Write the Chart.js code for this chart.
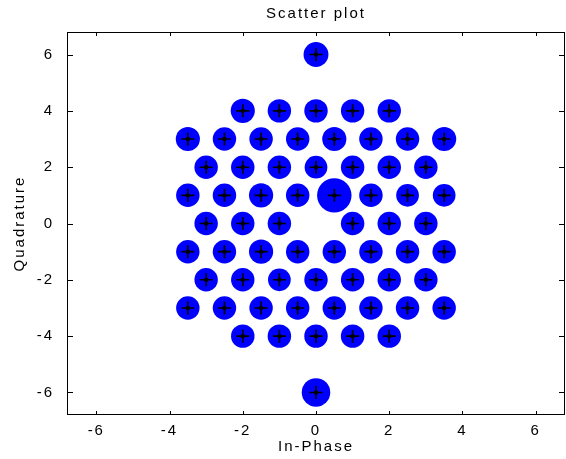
<!DOCTYPE html>
<html>
<head>
<meta charset="utf-8">
<script src="https://cdn.jsdelivr.net/npm/chart.js@4/dist/chart.umd.min.js"></script>
<style>
html,body{margin:0;padding:0;background:#fff;}
#wrap{width:566px;height:459px;}
</style>
</head>
<body>
<div id="wrap"><canvas id="c" width="566" height="459"></canvas></div>
<script>
// ---- data ----
const titleText = 'Scatter plot';
const xLabel = 'In-Phase';
const yLabel = 'Quadrature';
const tickValues = [-6, -4, -2, 0, 2, 4, 6];
const axisMin = -6.8;
const axisMax = 6.8;

// ideal constellation points (In-Phase, Quadrature)
const symbolI = [
  0,
  -2, -1, 0, 1, 2,
  -3.5, -2.5, -1.5, -0.5, 0.5, 1.5, 2.5, 3.5,
  -3, -2, -1, 0, 1, 2, 3,
  -3.5, -2.5, -1.5, -0.5, 0.5, 1.5, 2.5, 3.5,
  -3, -2, -1, 1, 2, 3,
  -3.5, -2.5, -1.5, -0.5, 0.5, 1.5, 2.5, 3.5,
  -3, -2, -1, 0, 1, 2, 3,
  -3.5, -2.5, -1.5, -0.5, 0.5, 1.5, 2.5, 3.5,
  -2, -1, 0, 1, 2,
  0
];
const symbolQ = [
  6,
  4, 4, 4, 4, 4,
  3, 3, 3, 3, 3, 3, 3, 3,
  2, 2, 2, 2, 2, 2, 2,
  1, 1, 1, 1, 1, 1, 1, 1,
  0, 0, 0, 0, 0, 0,
  -1, -1, -1, -1, -1, -1, -1, -1,
  -2, -2, -2, -2, -2, -2, -2,
  -3, -3, -3, -3, -3, -3, -3, -3,
  -4, -4, -4, -4, -4,
  -6
];
// observed noise spread of each received cluster (In-Phase units)
const noiseSpread = [
  0.34,
  0.33, 0.32, 0.32, 0.32, 0.32,
  0.33, 0.32, 0.32, 0.32, 0.33, 0.32, 0.32, 0.33,
  0.32, 0.32, 0.32, 0.31, 0.32, 0.32, 0.32,
  0.32, 0.32, 0.33, 0.32, 0.47, 0.32, 0.31, 0.31,
  0.32, 0.32, 0.32, 0.32, 0.32, 0.32,
  0.32, 0.32, 0.33, 0.32, 0.32, 0.32, 0.32, 0.32,
  0.32, 0.32, 0.31, 0.32, 0.32, 0.32, 0.32,
  0.32, 0.32, 0.32, 0.32, 0.32, 0.32, 0.32, 0.32,
  0.32, 0.32, 0.32, 0.32, 0.32,
  0.39
];

// ---- chart ----
const FONT = {family: '"Liberation Sans", Arial, Helvetica, sans-serif', size: 15, weight: 'normal'};
const points = symbolI.map((v, i) => ({x: v, y: symbolQ[i]}));

const framePlugin = {
  id: 'frame',
  beforeDraw(chart) {
    chart.ctx.letterSpacing = '2px';
  },
  afterDatasetsDraw(chart) {
    const {ctx, chartArea: a, scales} = chart;
    ctx.save();
    ctx.letterSpacing = '0px';
    ctx.strokeStyle = '#000';
    ctx.lineWidth = 1;
    ctx.strokeRect(Math.round(a.left) + 0.5, Math.round(a.top) + 0.5,
                   Math.round(a.right - a.left) - 1, Math.round(a.bottom - a.top) - 1);
    const tlx = 4, tly = 6;
    ctx.beginPath();
    tickValues.forEach(v => {
      const px = Math.round(scales.x.getPixelForValue(v)) + 0.5;
      ctx.moveTo(px, a.bottom); ctx.lineTo(px, a.bottom - tlx);
      ctx.moveTo(px, a.top); ctx.lineTo(px, a.top + tlx);
      const py = Math.round(scales.y.getPixelForValue(v)) + 0.5;
      ctx.moveTo(a.left, py); ctx.lineTo(a.left + tly, py);
      ctx.moveTo(a.right, py); ctx.lineTo(a.right - tly, py);
    });
    ctx.stroke();
    ctx.restore();
  }
};

function setTicks(scale) {
  scale.ticks = tickValues.map(v => ({value: v}));
}

new Chart(document.getElementById('c').getContext('2d'), {
  type: 'scatter',
  data: {
    datasets: [
      {
        label: 'Received',
        order: 3,
        data: points,
        pointStyle: 'circle',
        backgroundColor: '#0000ff',
        borderColor: '#0000ff',
        borderWidth: 0,
        pointRadius(ctx) {
          const xs = ctx.chart.scales.x;
          return Math.abs(xs.getPixelForValue(noiseSpread[ctx.dataIndex]) - xs.getPixelForValue(0));
        }
      },
      {
        label: 'Constellation',
        order: 2,
        data: points,
        pointStyle: 'cross',
        borderColor: '#000',
        backgroundColor: '#000',
        borderWidth: 1.6,
        pointRadius: 6.5
      },
      {
        label: 'Center',
        order: 1,
        data: points,
        pointStyle: 'circle',
        borderColor: '#000',
        backgroundColor: '#000',
        borderWidth: 0,
        pointRadius: 2.2
      }
    ]
  },
  options: {
    responsive: false,
    animation: false,
    devicePixelRatio: 1,
    layout: {autoPadding: false, padding: {left: 0, right: 1, top: 0, bottom: 0}},
    plugins: {
      legend: {display: false},
      tooltip: {enabled: false},
      title: {
        display: true, fullSize: false, text: titleText, color: '#000', font: FONT,
        padding: {top: 5, bottom: 9}
      }
    },
    scales: {
      x: {
        type: 'linear', position: 'bottom', min: axisMin, max: axisMax,
        afterBuildTicks: setTicks,
        afterFit(s) { s.height = 44; s.paddingLeft = 0; s.paddingRight = 0; },
        grid: {display: false, drawTicks: false},
        border: {display: false},
        ticks: {color: '#000', font: FONT, padding: 7, maxRotation: 0, autoSkip: false},
        title: {display: true, text: xLabel, color: '#000', font: FONT, padding: {top: 0, bottom: 3}}
      },
      y: {
        type: 'linear', position: 'left', min: axisMin, max: axisMax,
        afterBuildTicks: setTicks,
        afterFit(s) { s.width = 67; s.paddingTop = 0; s.paddingBottom = 0; },
        grid: {display: false, drawTicks: false},
        border: {display: false},
        ticks: {color: '#000', font: FONT, padding: 13, autoSkip: false},
        title: {display: true, text: yLabel, color: '#000', font: FONT, padding: {top: 11, bottom: 0}}
      }
    }
  },
  plugins: [framePlugin]
});
</script>
</body>
</html>
